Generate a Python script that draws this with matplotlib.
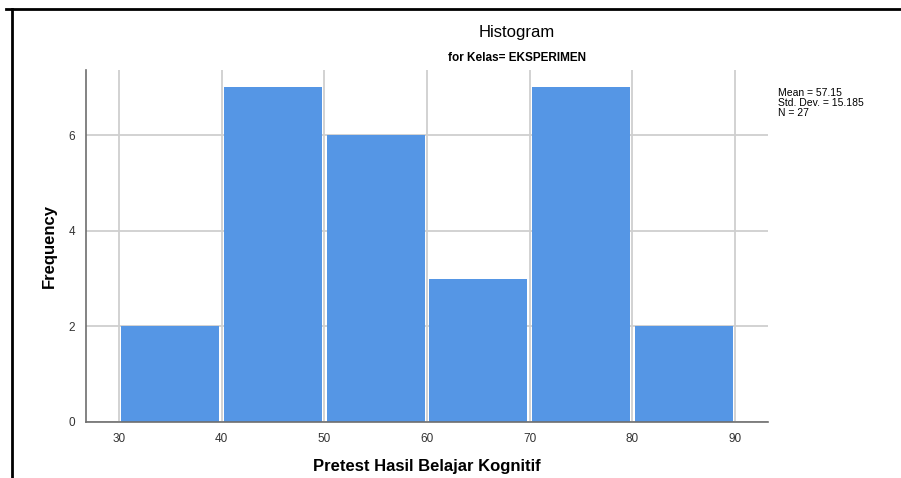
import matplotlib
matplotlib.use("Agg")
import matplotlib.pyplot as plt
from matplotlib.lines import Line2D

bin_edges = [30, 40, 50, 60, 70, 80, 90]
counts = [2, 7, 6, 3, 7, 2]
x_ticks = [30, 40, 50, 60, 70, 80, 90]
y_ticks = [0, 2, 4, 6]
stats_text = "Mean = 57.15\nStd. Dev. = 15.185\nN = 27"

plt.rcParams['font.family'] = ['Liberation Sans', 'DejaVu Sans']

W, H = 901, 478
fig = plt.figure(figsize=(W/100, H/100), dpi=100)
ax = fig.add_axes([86/W, 1-422/H, (768-86)/W, (422-70)/H])

inset = 0.22  # small white gap at each side of a bar (data units)
lefts = [a + inset for a in bin_edges[:-1]]
widths = [b - a - 2 * inset for a, b in zip(bin_edges[:-1], bin_edges[1:])]
ax.bar(lefts, counts, width=widths, align='edge', color='#5596E5',
       linewidth=0, zorder=3)

ax.set_xlim(26.8, 93.2)
ax.set_ylim(0, 7.36)
ax.set_xticks(x_ticks)
ax.set_yticks(y_ticks)
ax.grid(True, color='#CFCFCF', linewidth=1.3, zorder=0)
ax.set_axisbelow(True)
for s in ['top', 'right']:
    ax.spines[s].set_visible(False)
for s in ['left', 'bottom']:
    ax.spines[s].set_color('#6E6E6E')
    ax.spines[s].set_linewidth(1.2)
    ax.spines[s].set_zorder(5)
ax.tick_params(length=0, labelsize=8.5, colors='#333333', pad=8)

ax.set_xlabel("Pretest Hasil Belajar Kognitif", fontsize=12, fontweight='bold', labelpad=10)
ax.set_ylabel("Frequency", fontsize=12, fontweight='bold', labelpad=8)

fig.text(517/W, 1-33/H, "Histogram", ha='center', va='center', fontsize=12)
fig.text(517/W, 1-58/H, "for Kelas= EKSPERIMEN", ha='center', va='center', fontsize=8.5, fontweight='bold')
fig.text(778/W, 1-88/H, stats_text, ha='left', va='top', fontsize=7.5, linespacing=1.0)

# outer black frame
fig.add_artist(Line2D([6/W, 1], [1-9/H, 1-9/H], color='black', linewidth=2, transform=fig.transFigure))
fig.add_artist(Line2D([12/W, 12/W], [0, 1-9/H], color='black', linewidth=2, transform=fig.transFigure))

fig.savefig("out.png", dpi=100)
